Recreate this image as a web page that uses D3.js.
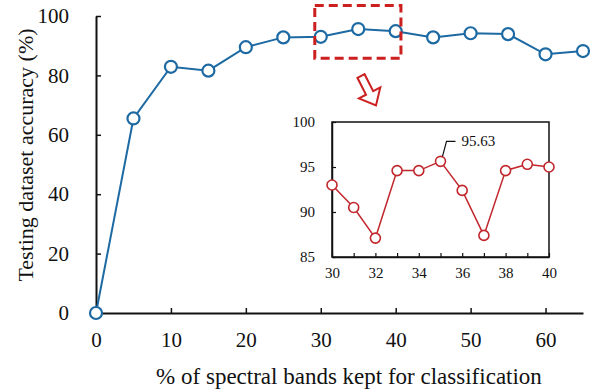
<!DOCTYPE html>
<html><head><meta charset="utf-8">
<script src="https://cdn.jsdelivr.net/npm/d3@7"></script>
<style>body{margin:0;background:#fff}svg{display:block}text{font-family:"Liberation Serif","Times New Roman",serif;fill:#111}</style>
</head><body><svg id="c" width="600" height="392"></svg>
<script>
// Main series
const bandsPct = [0,5,10,15,20,25,30,35,40,45,50,55,60,65];
const accuracy = [0,65.5,82.9,81.6,89.5,92.8,93.0,95.6,94.9,92.8,94.2,93.9,87.1,88.2];
const mainXTicks = [0,10,20,30,40,50,60];
const mainYTicks = [0,20,40,60,80,100];
// Inset series (zoom 30–40)
const insetX = [30,31,32,33,34,35,36,37,38,39,40];
const insetAcc = [93.0,90.5,87.1,94.6,94.6,95.63,92.4,87.4,94.6,95.3,95.0];
const insetXTicks = [30,32,34,36,38,40];
const insetYTicks = [85,90,95,100];
const peakLabel = "95.63";

const svg = d3.select("#c");
const blue = "#1d6aa3", red = "#c1272d";

const x = d3.scaleLinear().domain([0,65]).range([96,583]);
const y = d3.scaleLinear().domain([0,100]).range([313,16]);

// axes
const gx = svg.append("g").attr("transform","translate(0,313)")
  .call(d3.axisBottom(x).tickValues(mainXTicks).tickSizeInner(-5).tickSizeOuter(0).tickPadding(19));
const gy = svg.append("g").attr("transform","translate(96,0)")
  .call(d3.axisLeft(y).tickValues(mainYTicks).tickSizeInner(-5).tickSizeOuter(0).tickPadding(27));
[gx,gy].forEach(g=>{
  g.select(".domain").attr("stroke","#111").attr("stroke-width",2);
  g.selectAll(".tick line").attr("stroke","#111").attr("stroke-width",1.5);
  g.selectAll(".tick text").attr("font-size",21).attr("font-family","Liberation Serif").attr("fill","#111");
});

svg.append("text").attr("x",349).attr("y",384).attr("text-anchor","middle")
  .attr("font-size",23).text("% of spectral bands kept for classification");
svg.append("text").attr("transform","translate(33,155) rotate(-90)").attr("text-anchor","middle")
  .attr("font-size",22).text("Testing dataset accuracy (%)");

// main line
const pts = bandsPct.map((d,i)=>[d,accuracy[i]]);
svg.append("path").datum(pts).attr("fill","none").attr("stroke",blue).attr("stroke-width",2)
  .attr("d",d3.line().x(d=>x(d[0])).y(d=>y(d[1])));
svg.selectAll("circle.m").data(pts).join("circle").attr("class","m")
  .attr("cx",d=>x(d[0])).attr("cy",d=>y(d[1])).attr("r",6)
  .attr("fill","#fff").attr("stroke",blue).attr("stroke-width",2.2);

// dashed highlight box
svg.append("rect").attr("x",x(29.2)).attr("y",y(103.5))
  .attr("width",x(40.7)-x(29.2)).attr("height",y(85.8)-y(103.5))
  .attr("fill","none").attr("stroke","#cc1f1f").attr("stroke-width",3).attr("stroke-dasharray","9,5");

// hollow arrow
const arrow = "M-4,0 L4,0 L4,19 L12,19 L0,33 L-12,19 L-4,19 Z";
svg.append("path").attr("d",arrow).attr("transform","translate(361,76) rotate(-27)")
  .attr("fill","#fff").attr("stroke","#cc1f1f").attr("stroke-width",2);

// inset
const ix = d3.scaleLinear().domain([30,40]).range([332,549]);
const iy = d3.scaleLinear().domain([85,100]).range([257,122]);
const ins = svg.append("g");
ins.append("rect").attr("x",332).attr("y",122).attr("width",549-332).attr("height",257-122)
  .attr("fill","#fff").attr("stroke","#111").attr("stroke-width",1.5);
const gix = ins.append("g").attr("transform","translate(0,257)")
  .call(d3.axisBottom(ix).tickValues(insetX).tickSizeInner(-4).tickSizeOuter(0).tickPadding(10).tickFormat(d=>insetXTicks.includes(d)?d:""));
const giy = ins.append("g").attr("transform","translate(332,0)")
  .call(d3.axisLeft(iy).tickValues(insetYTicks).tickSizeInner(-4).tickSizeOuter(0).tickPadding(17));
[gix,giy].forEach(g=>{
  g.select(".domain").attr("stroke","#111").attr("stroke-width",1.5);
  g.selectAll(".tick line").attr("stroke","#111").attr("stroke-width",1.2);
  g.selectAll(".tick text").attr("font-size",15).attr("font-family","Liberation Serif").attr("fill","#111");
});
const ipts = insetX.map((d,i)=>[d,insetAcc[i]]);
ins.append("path").datum(ipts).attr("fill","none").attr("stroke",red).attr("stroke-width",1.5)
  .attr("d",d3.line().x(d=>ix(d[0])).y(d=>iy(d[1])));
ins.selectAll("circle").data(ipts).join("circle")
  .attr("cx",d=>ix(d[0])).attr("cy",d=>iy(d[1])).attr("r",5)
  .attr("fill","#fff").attr("stroke",red).attr("stroke-width",1.6);
// peak annotation
const pk = ipts[insetAcc.indexOf(d3.max(insetAcc))];
const px = ix(pk[0]), py = iy(pk[1]);
ins.append("path").attr("d",`M${px+2},${py-5} L${px+6},${py-20} L${px+15},${py-20}`)
  .attr("fill","none").attr("stroke","#111").attr("stroke-width",1.2);
ins.append("text").attr("x",px+21).attr("y",py-15).attr("font-size",15).text(peakLabel);
</script></body></html>
